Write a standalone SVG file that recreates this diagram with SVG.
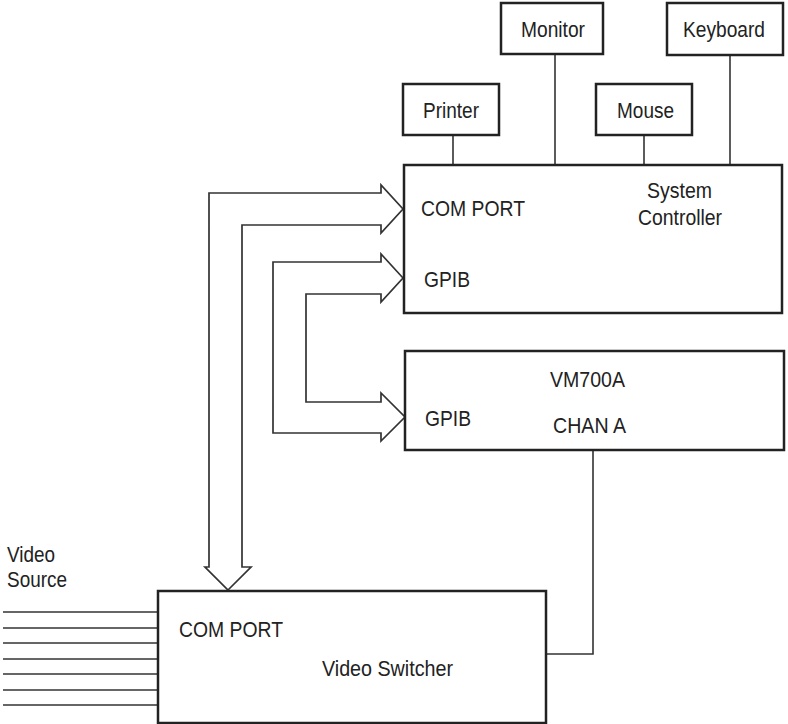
<svg xmlns="http://www.w3.org/2000/svg" width="788" height="724" viewBox="0 0 788 724">
<style>
.box{fill:#fff;stroke:#222;stroke-width:2.5}
.ln{fill:none;stroke:#333;stroke-width:1.6}
.arr{fill:#fff;stroke:#333;stroke-width:1.7;stroke-linejoin:miter}
text{font-family:"Liberation Sans",Arial,sans-serif;font-size:22px;fill:#222}
</style>
<rect width="788" height="724" fill="#fff"/>
<g id="connectors">
<line class="ln" x1="453" y1="135" x2="453" y2="165"/>
<line class="ln" x1="555" y1="54" x2="555" y2="165"/>
<line class="ln" x1="644" y1="135" x2="644" y2="165"/>
<line class="ln" x1="730" y1="55" x2="730" y2="165"/>
<polyline class="ln" points="593,450 593,654 546,654"/>
<g id="video-source-lines">
<line class="ln" x1="3" y1="612" x2="158" y2="612"/>
<line class="ln" x1="3" y1="628" x2="158" y2="628"/>
<line class="ln" x1="3" y1="643" x2="158" y2="643"/>
<line class="ln" x1="3" y1="659" x2="158" y2="659"/>
<line class="ln" x1="3" y1="674" x2="158" y2="674"/>
<line class="ln" x1="3" y1="690" x2="158" y2="690"/>
<line class="ln" x1="3" y1="705" x2="158" y2="705"/>
</g>
<polygon id="com-arrow" class="arr" points="228,590 251,567 242,567 242,225 381,225 381,233 403,209 381,185 381,193 209,193 209,567 205,567"/>
<polygon id="gpib-arrow" class="arr" points="403,278 381,254 381,262 273,262 273,433 381,433 381,441 405,417 381,393 381,402 306,402 306,294 381,294 381,302"/>
</g>
<g id="printer"><rect class="box" x="403" y="84" width="96" height="51"/><text x="423" y="118" textLength="56" lengthAdjust="spacingAndGlyphs">Printer</text></g>
<g id="monitor"><rect class="box" x="501" y="3" width="102" height="51"/><text x="521" y="37" textLength="64" lengthAdjust="spacingAndGlyphs">Monitor</text></g>
<g id="mouse"><rect class="box" x="596" y="84" width="96" height="51"/><text x="617" y="118" textLength="57" lengthAdjust="spacingAndGlyphs">Mouse</text></g>
<g id="keyboard"><rect class="box" x="667" y="3" width="116" height="52"/><text x="683" y="37" textLength="82" lengthAdjust="spacingAndGlyphs">Keyboard</text></g>
<g id="system-controller"><rect class="box" x="404" y="165" width="378" height="148"/>
<text x="421" y="216" textLength="104" lengthAdjust="spacingAndGlyphs">COM PORT</text>
<text x="647" y="198" textLength="65" lengthAdjust="spacingAndGlyphs">System</text>
<text x="638" y="225" textLength="84" lengthAdjust="spacingAndGlyphs">Controller</text>
<text x="424" y="287" textLength="46" lengthAdjust="spacingAndGlyphs">GPIB</text>
</g>
<g id="vm700a"><rect class="box" x="405" y="351" width="379" height="99"/>
<text x="550" y="387" textLength="75" lengthAdjust="spacingAndGlyphs">VM700A</text>
<text x="425" y="426" textLength="46" lengthAdjust="spacingAndGlyphs">GPIB</text>
<text x="553" y="433" textLength="73" lengthAdjust="spacingAndGlyphs">CHAN A</text>
</g>
<g id="video-switcher"><rect class="box" x="158" y="591" width="388" height="132"/>
<text x="179" y="637" textLength="104" lengthAdjust="spacingAndGlyphs">COM PORT</text>
<text x="322" y="676" textLength="131" lengthAdjust="spacingAndGlyphs">Video Switcher</text>
</g>
<g id="video-source-label">
<text x="7" y="562" textLength="48" lengthAdjust="spacingAndGlyphs">Video</text>
<text x="7" y="587" textLength="60" lengthAdjust="spacingAndGlyphs">Source</text>
</g>
</svg>
